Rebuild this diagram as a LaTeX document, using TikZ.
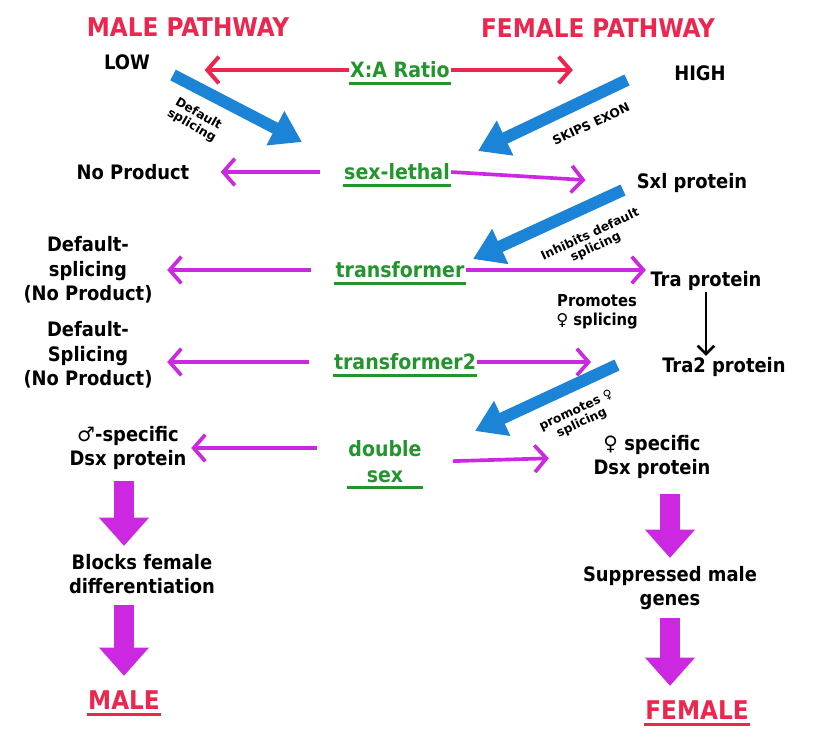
\documentclass[tikz,border=0pt]{standalone}
\usepackage{fontspec}
\setmainfont{DejaVu Sans Condensed}
\newfontfamily\symf{DejaVu Sans}
\usepackage{xcolor}
\usetikzlibrary{arrows.meta}
\definecolor{penred}{RGB}{236,38,78}
\definecolor{penmag}{RGB}{204,40,226}
\definecolor{penblue}{RGB}{28,132,214}
\definecolor{pengreen}{RGB}{34,150,44}
\newcommand{\fem}{{\symf ♀}}
\newcommand{\mal}{{\symf ♂}}

\begin{document}
\begin{tikzpicture}[x=0.3mm,y=-0.3mm,
  every node/.style={font=\bfseries\fontsize{17}{21}\selectfont,align=center,inner sep=1pt},
  title/.style={text=penred,font=\bfseries\fontsize{22}{24}\selectfont},
  gene/.style={text=pengreen,font=\bfseries\fontsize{18}{22}\selectfont},
  hint/.style={font=\symf\bfseries\fontsize{10.5}{11.5}\selectfont},
  redarr/.style={draw=penred,line width=1.2mm,-{Straight Barb[length=3.5mm,width=8mm]}},
  magarr/.style={draw=penmag,line width=1.1mm,-{Straight Barb[length=3.5mm,width=8mm]}},
  bluarr/.style={draw=penblue,line width=3.6mm,-{Triangle[length=9mm,width=11mm]}},
  fatarr/.style={draw=penmag,line width=5.8mm,-{Triangle[length=8.5mm,width=14.5mm]}},
  uline/.style={draw=pengreen,line width=0.9mm},
  rline/.style={draw=penred,line width=0.9mm}]
\useasboundingbox[fill=white] (0,0) rectangle (837,738);

% titles and ratio
\node[title] (malepw) at (188,27) {MALE PATHWAY};
\node[title] (femalepw) at (598,28) {FEMALE PATHWAY};
\node (low) at (127,62) {LOW};
\node (high) at (700,73) {HIGH};
\node[gene] (ratio) at (400,70) {X:A Ratio};

% gene rows
\node (noprod) at (133,172) {No Product};
\node[gene] (sxl) at (397,172) {sex-lethal};
\node (sxlp) at (692,183) {Sxl protein};
\node (defA) at (88,270) {Default-\\splicing\\(No Product)};
\node[gene] (tra) at (400,270) {transformer};
\node (trap) at (706,281) {Tra protein};
\node[font=\bfseries\fontsize{14}{16}\selectfont] (promA) at (597,312) {Promotes\\\fem\ splicing};
\node (tratwop) at (724,367) {Tra2 protein};
\node (defB) at (88,355) {Default-\\Splicing\\(No Product)};
\node[gene] (tratwo) at (405,362) {transformer2};
\node (dsxm) at (128,448) {\mal-specific\\Dsx protein};
\node[gene] (dsx) at (385,462) {double\\sex};
\node (dsxf) at (652,457) {\fem\ specific\\Dsx protein};
\node (blocks) at (142,574) {Blocks female\\differentiation};
\node (supp) at (670,588) {Suppressed male\\genes};
\node[title] (male) at (124,700) {MALE};
\node[title] (female) at (697,710) {FEMALE};

% underlines
\foreach \g in {ratio,sxl,tra,tratwo,dsx}
  \draw[uline] ([yshift=-3pt]\g.south west) -- ([yshift=-3pt]\g.south east);
\draw[rline] ([yshift=-3pt]male.south west) -- ([yshift=-3pt]male.south east);
\draw[rline] ([yshift=-3pt]female.south west) -- ([yshift=-3pt]female.south east);

% side arrows
\draw[redarr,shorten >=16mm] (ratio.west) -- (ratio.west -| low.east);
\draw[redarr,shorten >=30mm] (ratio.east) -- (ratio.east -| high.west);
\draw[magarr,shorten <=7mm,shorten >=9mm] (sxl.west) -- (noprod.east);
\draw[magarr,shorten >=15mm] (sxl.east) -- (sxlp.west);
\draw[magarr,shorten <=7mm,shorten >=4mm] (tra.west) -- (tra.west -| defA.east);
\draw[magarr,shorten >=1mm] (tra.east) -- (tra.east -| trap.west);
\draw[magarr,shorten <=7mm,shorten >=4mm] (tratwo.west) -- (tratwo.west -| defB.east);
\draw[magarr,shorten >=21mm] (tratwo.east) -- (tratwo.east -| tratwop.west);
\draw[magarr,shorten <=9mm,shorten >=1mm] (dsx.west |- dsxm) -- (dsxm.east);
\draw[magarr,shorten <=9mm,shorten >=13mm] (dsx.east) -- (dsxf.west);
\draw[line width=0.8mm,-{Straight Barb[length=2.5mm,width=5mm]}] (trap.south) -- (trap.south |- tratwop.north);

% blue splicing arrows
\coordinate (bluA1) at (173,75);   \coordinate (bluA2) at (302,142);
\coordinate (bluB1) at (627,80);   \coordinate (bluB2) at (478,151);
\coordinate (bluC1) at (623,190);  \coordinate (bluC2) at (473,259);
\coordinate (bluD1) at (617,365);  \coordinate (bluD2) at (475,431);
\draw[bluarr] (bluA1) -- (bluA2);
\draw[bluarr] (bluB1) -- (bluB2);
\draw[bluarr] (bluC1) -- (bluC2);
\draw[bluarr] (bluD1) -- (bluD2);
\node[hint,rotate=-30] (lblA) at (195,120) {Default\\splicing};
\node[hint,rotate=25] (lblB) at (591,124) {SKIPS EXON};
\node[hint,rotate=25] (lblC) at (593,241) {Inhibits default\\splicing};
\node[hint,rotate=25] (lblD) at (579,417) {promotes \fem\\splicing};

% fat arrows
\draw[fatarr,shorten <=3mm,shorten >=2mm] (male.north |- dsxm.south) -- (male.north |- blocks.north);
\draw[fatarr,shorten <=3mm,shorten >=4mm] (male.north |- blocks.south) -- (male.north);
\draw[fatarr,shorten <=4mm,shorten >=2mm] (supp.north |- dsxf.south) -- (supp.north);
\draw[fatarr,shorten <=2mm,shorten >=4mm] (supp.south) -- (supp.south |- female.north);
\end{tikzpicture}
\end{document}
